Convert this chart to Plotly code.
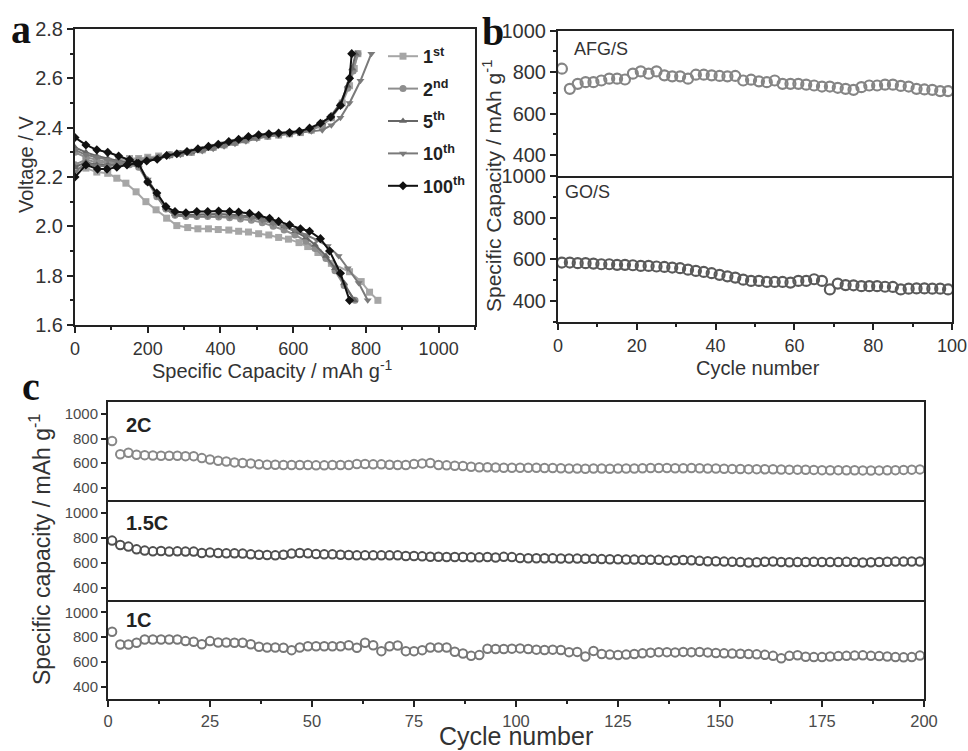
import plotly.graph_objects as go

# ---------------- Panel a: voltage profiles ----------------
cap_dis_1st = [0, 30, 60, 90, 115, 140, 168, 195, 223, 252, 280, 310, 338, 367, 394, 423, 450, 477, 505, 533, 560, 587, 616, 640, 668, 705, 755, 787, 810, 833]
v_dis_1st = [2.24, 2.236, 2.22, 2.215, 2.195, 2.175, 2.14, 2.10, 2.067, 2.033, 2.003, 1.995, 1.99, 1.99, 1.987, 1.985, 1.98, 1.977, 1.97, 1.965, 1.955, 1.948, 1.934, 1.918, 1.894, 1.85, 1.816, 1.776, 1.733, 1.70]
cap_chg_1st = [0, 30, 60, 90, 120, 150, 175, 200, 230, 260, 290, 320, 350, 380, 410, 440, 470, 500, 530, 560, 590, 620, 650, 680, 705, 735, 755, 768, 778]
v_chg_1st = [2.23, 2.245, 2.25, 2.265, 2.27, 2.275, 2.275, 2.28, 2.285, 2.29, 2.295, 2.30, 2.31, 2.32, 2.33, 2.34, 2.35, 2.36, 2.365, 2.37, 2.375, 2.38, 2.39, 2.41, 2.44, 2.50, 2.57, 2.64, 2.70]

cap_dis_2nd = [0, 30, 60, 90, 120, 150, 175, 200, 225, 250, 275, 305, 335, 365, 395, 425, 455, 485, 515, 545, 575, 605, 635, 660, 690, 715, 740, 770]
v_dis_2nd = [2.30, 2.28, 2.27, 2.26, 2.255, 2.25, 2.24, 2.18, 2.12, 2.07, 2.045, 2.04, 2.04, 2.04, 2.038, 2.035, 2.03, 2.025, 2.015, 2.0, 1.985, 1.965, 1.94, 1.91, 1.87, 1.82, 1.76, 1.70]
cap_chg_2nd = [0, 30, 60, 90, 120, 150, 175, 200, 230, 260, 290, 320, 350, 380, 410, 440, 470, 500, 530, 560, 590, 620, 650, 680, 705, 730, 750, 765, 778]
v_chg_2nd = [2.25, 2.27, 2.26, 2.26, 2.26, 2.265, 2.27, 2.275, 2.28, 2.29, 2.295, 2.30, 2.31, 2.32, 2.33, 2.34, 2.35, 2.36, 2.365, 2.37, 2.375, 2.38, 2.39, 2.41, 2.44, 2.49, 2.56, 2.63, 2.70]

cap_dis_5th = [0, 30, 60, 90, 120, 150, 175, 200, 225, 250, 275, 305, 335, 365, 395, 425, 455, 485, 515, 545, 575, 605, 635, 660, 690, 715, 740, 768]
v_dis_5th = [2.32, 2.30, 2.285, 2.275, 2.265, 2.26, 2.25, 2.19, 2.13, 2.075, 2.05, 2.045, 2.048, 2.05, 2.05, 2.048, 2.045, 2.04, 2.03, 2.015, 2.0, 1.98, 1.955, 1.925, 1.88, 1.83, 1.77, 1.70]
cap_chg_5th = [0, 30, 60, 90, 120, 150, 175, 200, 230, 260, 290, 320, 350, 380, 410, 440, 470, 500, 530, 560, 590, 620, 650, 680, 705, 730, 750, 762, 772]
v_chg_5th = [2.24, 2.26, 2.25, 2.25, 2.25, 2.255, 2.26, 2.27, 2.28, 2.285, 2.295, 2.30, 2.31, 2.32, 2.33, 2.34, 2.35, 2.36, 2.37, 2.375, 2.38, 2.385, 2.395, 2.42, 2.45, 2.50, 2.57, 2.64, 2.70]

cap_dis_10th = [0, 30, 60, 90, 120, 150, 175, 200, 225, 250, 275, 305, 335, 365, 395, 425, 455, 485, 515, 545, 575, 605, 635, 665, 695, 725, 750, 780, 805]
v_dis_10th = [2.31, 2.29, 2.28, 2.27, 2.26, 2.255, 2.245, 2.19, 2.125, 2.07, 2.045, 2.04, 2.04, 2.042, 2.042, 2.04, 2.038, 2.035, 2.025, 2.012, 2.0, 1.985, 1.965, 1.945, 1.92, 1.88, 1.83, 1.77, 1.70]
cap_chg_10th = [0, 30, 60, 90, 120, 150, 175, 200, 230, 260, 290, 320, 350, 380, 410, 440, 470, 500, 530, 560, 590, 620, 650, 680, 705, 730, 755, 785, 815]
v_chg_10th = [2.22, 2.255, 2.245, 2.245, 2.25, 2.255, 2.26, 2.265, 2.275, 2.285, 2.29, 2.30, 2.305, 2.315, 2.325, 2.335, 2.345, 2.355, 2.365, 2.37, 2.375, 2.38, 2.385, 2.39, 2.41, 2.44, 2.50, 2.59, 2.70]

cap_dis_100th = [0, 30, 60, 90, 120, 150, 175, 200, 225, 250, 275, 305, 335, 365, 395, 425, 450, 480, 505, 535, 560, 590, 620, 645, 675, 700, 730, 755]
v_dis_100th = [2.36, 2.33, 2.31, 2.30, 2.285, 2.27, 2.255, 2.18, 2.135, 2.08, 2.06, 2.055, 2.06, 2.06, 2.062, 2.06, 2.058, 2.053, 2.045, 2.033, 2.02, 2.006, 1.99, 1.98, 1.95, 1.90, 1.81, 1.70]
cap_chg_100th = [0, 30, 62, 88, 115, 143, 170, 197, 226, 252, 280, 308, 338, 367, 394, 423, 450, 477, 505, 533, 560, 590, 617, 645, 675, 703, 730, 755, 761]
v_chg_100th = [2.20, 2.249, 2.232, 2.232, 2.24, 2.249, 2.256, 2.265, 2.272, 2.287, 2.294, 2.303, 2.314, 2.324, 2.333, 2.344, 2.353, 2.364, 2.371, 2.375, 2.378, 2.38, 2.385, 2.398, 2.418, 2.443, 2.49, 2.60, 2.70]

cycle_names = ["<b>1<sup>st</sup></b>", "<b>2<sup>nd</sup></b>", "<b>5<sup>th</sup></b>",
               "<b>10<sup>th</sup></b>", "<b>100<sup>th</sup></b>"]

# ---------------- Panel b: cycling ----------------
cycles_b = list(range(1, 100, 2))
afg_s = [817, 720, 744, 752, 752, 760, 769, 769, 765, 793, 804, 793, 804, 785, 780, 780, 769, 788, 788, 785,
         782, 780, 782, 760, 764, 756, 752, 760, 744, 744, 744, 740, 736, 731, 731, 725, 720, 715, 728, 736,
         736, 740, 740, 734, 731, 720, 717, 715, 709, 709]
go_s = [585, 585, 582, 582, 580, 577, 577, 574, 574, 572, 569, 569, 566, 564, 561, 558, 551, 545, 540, 534,
        526, 519, 513, 503, 497, 497, 492, 492, 492, 489, 497, 497, 505, 497, 456, 484, 477, 476, 472, 472,
        472, 469, 468, 456, 460, 461, 461, 460, 460, 456]

# ---------------- Panel c: rate cycling ----------------
cycles_c = list(range(1, 200, 2))
rate_2c = [780, 673, 684, 668, 665, 662, 660, 660, 660, 657, 657, 641, 630, 620, 614, 606, 601, 598, 590, 587,
           587, 585, 585, 585, 585, 582, 582, 585, 585, 585, 593, 593, 590, 590, 587, 585, 585, 593, 598, 601,
           585, 582, 579, 577, 571, 566, 566,
           565, 563, 562, 563, 562, 563, 560, 560, 558, 556, 556, 555, 556, 556, 555, 556, 557, 557, 558, 560,
           560, 560, 559, 559, 561, 558, 557, 556, 555, 553, 552, 551, 551, 550, 550, 548, 547, 547, 546, 545,
           543, 542, 543, 542, 542, 541, 540, 541, 542, 543, 545, 547, 549]
rate_15c = [775, 740, 727, 705, 695, 689, 692, 687, 689, 687, 687, 676, 679, 676, 673, 673, 671, 665, 662, 660,
            657, 662, 671, 676, 673, 668, 665, 665, 662, 660, 657, 657, 657, 657, 657, 657, 652, 652, 649, 646,
            646, 644, 644, 644, 641, 641, 644,
            640, 645, 643, 635, 634, 634, 634, 633, 632, 632, 631, 630, 629, 627, 626, 625, 624, 623, 622, 621,
            621, 615, 618, 620, 617, 613, 610, 610, 607, 605, 603, 600, 602, 606, 608, 604, 602, 603, 604, 605,
            604, 603, 604, 605, 603, 600, 602, 604, 606, 607, 607, 608, 608]
rate_1c = [844, 742, 742, 755, 782, 782, 782, 782, 782, 769, 763, 744, 769, 758, 758, 755, 755, 744, 723, 718,
           718, 715, 696, 718, 728, 728, 728, 728, 728, 736, 715, 755, 736, 688, 728, 734, 688, 688, 696, 718,
           718, 718, 683, 669, 650, 656, 707,
           705, 705, 708, 710, 705, 700, 697, 700, 697, 680, 682, 645, 690, 665, 660, 657, 660, 665, 670, 676,
           680, 680, 678, 682, 680, 682, 678, 673, 670, 668, 667, 665, 662, 658, 650, 630, 650, 655, 643, 640,
           640, 645, 648, 650, 652, 654, 650, 648, 645, 640, 638, 640, 652]

FONT = "Liberation Sans, Arial, sans-serif"
SERIF = "Liberation Serif, Times New Roman, serif"
AXC = "#222222"
TXT = "#333333"
W, H = 968, 751


def px(X):
    return X / W


def py(Y):
    return 1 - Y / H


fig = go.Figure()

series_a = [
    (cap_dis_1st, v_dis_1st, cap_chg_1st, v_chg_1st, "square", "#a6a6a6"),
    (cap_dis_2nd, v_dis_2nd, cap_chg_2nd, v_chg_2nd, "circle", "#8e8e8e"),
    (cap_dis_5th, v_dis_5th, cap_chg_5th, v_chg_5th, "triangle-up", "#666666"),
    (cap_dis_10th, v_dis_10th, cap_chg_10th, v_chg_10th, "triangle-down", "#7a7a7a"),
    (cap_dis_100th, v_dis_100th, cap_chg_100th, v_chg_100th, "diamond", "#111111"),
]
for name, (cd, vd, cc, vc, sym, col) in zip(cycle_names, series_a):
    fig.add_trace(go.Scatter(
        x=cd + [None] + cc, y=vd + [None] + vc, mode="lines+markers", name=name,
        legendgroup=name, connectgaps=False,
        line=dict(color=col, width=2), marker=dict(symbol=sym, size=7, color=col),
        xaxis="x", yaxis="y"))

fig.add_trace(go.Scatter(x=cycles_b, y=afg_s, mode="markers", showlegend=False,
                         marker=dict(symbol="circle-open", size=10, color="#858585", line=dict(width=2.2)),
                         xaxis="x2", yaxis="y2"))
fig.add_trace(go.Scatter(x=cycles_b, y=go_s, mode="markers", showlegend=False,
                         marker=dict(symbol="circle-open", size=10, color="#5a5a5a", line=dict(width=2.2)),
                         xaxis="x3", yaxis="y3"))

for vals, col, xa, ya in [(rate_2c, "#888888", "x4", "y4"), (rate_15c, "#4f4f4f", "x5", "y5"),
                          (rate_1c, "#777777", "x6", "y6")]:
    fig.add_trace(go.Scatter(x=cycles_c, y=vals, mode="markers", showlegend=False,
                             marker=dict(symbol="circle-open", size=8.5, color=col, line=dict(width=2)),
                             xaxis=xa, yaxis=ya))


def ax(**kw):
    base = dict(showline=True, linecolor=AXC, linewidth=2, mirror=True, ticks="outside",
                tickcolor=AXC, tickwidth=1.5, showgrid=False, zeroline=False, automargin=False,
                tickfont=dict(family=FONT, size=20, color=TXT))
    base.update(kw)
    return base


MIN = dict(ticks="outside", ticklen=3, tickcolor=AXC)
a_x = [px(75), px(475)]
a_y = [py(325), py(29)]
b_x = [px(558), px(952)]
b_top = [py(176), py(30.7)]
b_bot = [py(322), py(176)]
c_x = [px(108), px(924)]
c_top = [py(500), py(401.7)]
c_mid = [py(600), py(500)]
c_bot = [py(699.3), py(600)]
cfont = dict(family=FONT, size=15, color="#4a4a4a")
xfont = dict(family=FONT, size=18, color=TXT)

fig.update_layout(
    width=W, height=H, autosize=False,
    margin=dict(l=0, r=0, t=0, b=0, pad=0, autoexpand=False),
    paper_bgcolor="white", plot_bgcolor="white",
    font=dict(family=FONT, color=TXT),
    xaxis=ax(domain=a_x, anchor="y", range=[0, 1100], dtick=200, ticklen=6,
             minor=dict(dtick=100, **MIN), tickfont=xfont),
    yaxis=ax(domain=a_y, anchor="x", range=[1.6, 2.8], dtick=0.2, tickformat=".1f", ticklen=6,
             minor=dict(dtick=0.1, **MIN)),
    xaxis2=ax(domain=b_x, anchor="y2", range=[0, 100], showticklabels=False, ticks=""),
    yaxis2=ax(domain=b_top, anchor="x2", range=[300, 1000], tickvals=[400, 600, 800, 1000],
              ticklen=6, minor=dict(dtick=100, **MIN)),
    xaxis3=ax(domain=b_x, anchor="y3", range=[0, 100], dtick=20, ticklen=6, mirror=False,
              minor=dict(dtick=10, **MIN), tickfont=xfont),
    yaxis3=ax(domain=b_bot, anchor="x3", range=[300, 1000], tickvals=[400, 600, 800, 1000],
              ticklen=6, minor=dict(dtick=100, **MIN)),
    xaxis4=ax(domain=c_x, anchor="y4", range=[0, 200], showticklabels=False, ticks=""),
    yaxis4=ax(domain=c_top, anchor="x4", range=[300, 1100], tickvals=[400, 600, 800, 1000],
              ticklen=5, tickfont=cfont),
    xaxis5=ax(domain=c_x, anchor="y5", range=[0, 200], showticklabels=False, ticks="", mirror=False),
    yaxis5=ax(domain=c_mid, anchor="x5", range=[300, 1100], tickvals=[400, 600, 800, 1000],
              ticklen=5, tickfont=cfont),
    xaxis6=ax(domain=c_x, anchor="y6", range=[0, 200], dtick=25, ticklen=6, mirror=False,
              minor=dict(dtick=12.5, **MIN), tickfont=dict(family=FONT, size=16.5, color="#4a4a4a")),
    yaxis6=ax(domain=c_bot, anchor="x6", range=[300, 1100], tickvals=[400, 600, 800, 1000],
              ticklen=5, tickfont=cfont),
    legend=dict(x=px(383), y=py(38), xanchor="left", yanchor="top", bgcolor="rgba(0,0,0,0)",
                font=dict(family=FONT, size=18, color="#222"), tracegroupgap=6, itemwidth=30),
)

ann = []


def A(text, x, y, size, angle=0, family=FONT, color=TXT, xanchor="center", yanchor="middle"):
    ann.append(dict(text=text, x=px(x), y=py(y), xref="paper", yref="paper", showarrow=False,
                    textangle=angle, xanchor=xanchor, yanchor=yanchor,
                    font=dict(family=family, size=size, color=color)))


A("<b>a</b>", 21, 29, 40, family=SERIF, color="#111")
A("<b>b</b>", 493, 32, 40, family=SERIF, color="#111")
A("<b>c</b>", 31, 386, 40, family=SERIF, color="#111")
A("Voltage / V", 26, 165, 20, angle=-90)
A("Specific Capacity / mAh g<sup>-1</sup>", 272, 369, 20)
A("Specific Capacity / mAh g<sup>-1</sup>", 492, 186, 21, angle=-90)
A("Cycle number", 758, 368, 20)
A("Specific capacity / mAh g<sup>-1</sup>", 40, 550, 23, angle=-90)
A("Cycle number", 516, 736, 25)
A("AFG/S", 572, 49, 18, xanchor="left")
A("GO/S", 563, 192, 18, xanchor="left")
A("<b>2C</b>", 124, 425, 20, xanchor="left", color="#222")
A("<b>1.5C</b>", 124, 523, 20, xanchor="left", color="#222")
A("<b>1C</b>", 124, 620, 20, xanchor="left", color="#222")

fig.update_layout(annotations=ann)
fig.write_html("out.html", config={"displayModeBar": False},
               post_script="document.body.style.margin='0';document.body.style.overflow='hidden';")
